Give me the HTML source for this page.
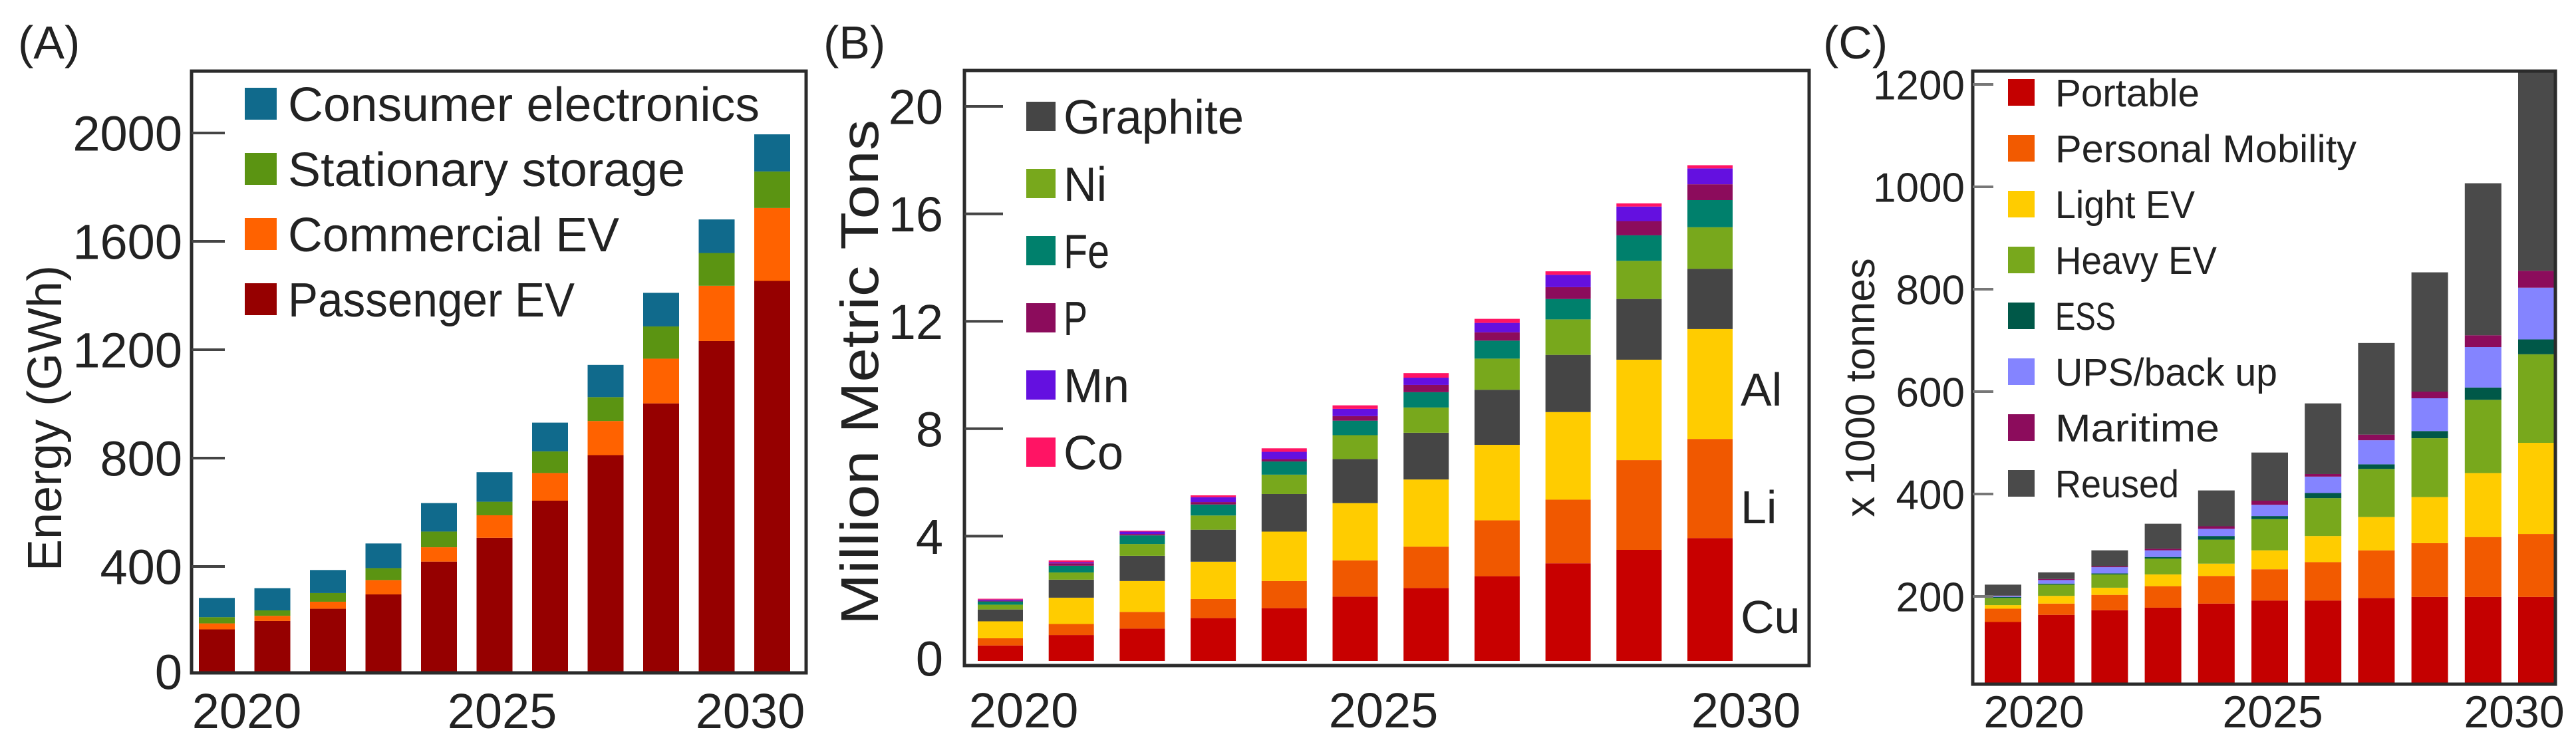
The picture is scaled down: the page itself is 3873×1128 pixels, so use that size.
<!DOCTYPE html>
<html><head><meta charset="utf-8"><style>
html,body{margin:0;padding:0;background:#fff;}
svg{display:block;font-family:"Liberation Sans",sans-serif;}
</style></head><body>
<svg id="fig" width="3873" height="1128" viewBox="0 0 3873 1128" xmlns="http://www.w3.org/2000/svg"></svg>
<script>
// ---------- Panel A data (GWh, cumulative stack tops) ----------
const yearsA = [2020,2021,2022,2023,2024,2025,2026,2027,2028,2029,2030];
const passengerEvCum   = [168,199,244,297,418,506,643,811,1002,1232,1454];
const commercialEvCum  = [190,218,270,350,471,589,745,937,1167,1436,1723];
const stationaryCum    = [213,238,302,394,529,639,825,1025,1286,1557,1858];
const consumerCum      = [284,320,387,485,634,748,931,1144,1410,1681,1995];
const ticksA = [0,400,800,1200,1600,2000];
const xLabelsA = ["2020","2025","2030"];

// ---------- Panel B data (million metric tons, cumulative) ----------
const cuCum  = [-0.07,0.32,0.56,0.95,1.32,1.75,2.07,2.51,2.99,3.49,3.93];
const liCum  = [0.20,0.73,1.18,1.66,2.33,3.10,3.61,4.59,5.36,6.83,7.62];
const alCum  = [0.83,1.71,2.33,3.05,4.17,5.23,6.11,7.40,8.62,10.57,11.71];
const grCum  = [1.27,2.38,3.27,4.24,5.57,6.87,7.85,9.45,10.75,12.83,13.95];
const niCum  = [1.45,2.65,3.71,4.77,6.29,7.76,8.79,10.61,12.07,14.25,15.50];
const feCum  = [1.57,2.90,4.03,5.18,6.78,8.30,9.36,11.28,12.83,15.20,16.51];
const pCum   = [1.60,2.99,4.08,5.27,6.87,8.47,9.63,11.59,13.27,15.73,17.10];
const mnCum  = [1.64,3.03,4.17,5.45,7.14,8.74,9.90,11.94,13.73,16.27,17.69];
const coCum  = [1.67,3.10,4.20,5.52,7.27,8.87,10.07,12.09,13.86,16.39,17.81];
const ticksB = [0,4,8,12,16,20];

// ---------- Panel C data (x1000 tonnes, cumulative) ----------
const portableCum = [150,164,173,178,186,192,192,197,199,199,199];
const personalCum = [176,186,203,220,240,253,267,290,304,316,322];
const lightCum    = [183,201,217,243,264,290,318,355,394,441,500];
const heavyCum    = [197,223,243,274,311,351,392,449,509,584,673];
const essCum      = [199,225,245,277,318,357,402,458,523,608,702];
const upsCum      = [201,232,257,290,332,379,434,505,587,687,803];
const maritimeCum = [201.5,234,259,293,337,387,439,516,600,710,836];
const reusedCum   = [223,247,290,342,407,481,577,695,833,1007,1224];
const ticksC = [200,400,600,800,1000,1200];

const NS="http://www.w3.org/2000/svg";
const svg=document.getElementById('fig');
function el(tag,attrs,parent,text){
  const e=document.createElementNS(NS,tag);
  for(const k in attrs) e.setAttribute(k,attrs[k]);
  if(text!==undefined) e.textContent=text;
  (parent||svg).appendChild(e);
  return e;
}

function drawPanel(cfg){
  const g=el('g',{});
  
  
  const y=v=>cfg.y0-v*cfg.scale;
  cfg.series.forEach((s,si)=>{
    s.cum.forEach((top,i)=>{
      const yb0 = si===0 ? cfg.baseY : y(cfg.series[si-1].cum[i]);
      let yt=Math.max(y(top),cfg.clipTop), yb=Math.min(yb0,cfg.baseY);
      const r=el('rect',{x:cfg.bx0+i*cfg.pitch,y:yt,width:cfg.bw,height:Math.max(0,yb-yt),fill:s.color},g);
      
      
    });
  });
  const f=el('rect',{x:cfg.fx0,y:cfg.fy0,width:cfg.fx1-cfg.fx0,height:cfg.fy1-cfg.fy0,fill:'none',stroke:'#2b2b2b','stroke-width':5},g);
  
  
  cfg.ticks.forEach(t=>{
    const isZero = (t===0);
    if(!isZero && y(t)<cfg.fy1-10){
      const l=el('line',{x1:cfg.fx0,x2:cfg.fx0+cfg.tickLen,y1:y(t),y2:y(t),stroke:cfg.tickColor,'stroke-width':4},g);
      
      
    }
    const ly = isZero ? cfg.zeroLabelY : y(t);
    const tx=el('text',{x:cfg.labelX,y:ly+cfg.tickFont*0.36,'font-size':cfg.tickFont,'text-anchor':'end',fill:'#222'},g,String(t));
    
    
  });
  cfg.xl.forEach((xx,i)=>{
    const t=el('text',{x:xx,y:cfg.xlY,'font-size':cfg.xFont,'text-anchor':'middle',fill:'#222'},g,["2020","2025","2030"][i]);
    
    
  });
  const ta={x:0,y:0,'font-size':cfg.titleFont,'text-anchor':'middle',fill:'#222',transform:`translate(${cfg.titleX},${cfg.titleY}) rotate(-90)`};
  if(cfg.titleLen){ta.textLength=cfg.titleLen;ta.lengthAdjust='spacingAndGlyphs';}
  const yt=el('text',ta,g,cfg.title);
  
  
  const pl=el('text',{x:cfg.letterX,y:88,'font-size':70,fill:'#222'},g,cfg.letter);
  
  
  cfg.legend.forEach((lg,i)=>{
    const cy=cfg.legY0+i*cfg.legPitch;
    const sq=el('rect',{x:cfg.legX,y:cy-cfg.legSq/2,width:cfg.legSq,height:cfg.legSq,fill:lg.color},g);
    
    
    const t=el('text',{x:cfg.legTX,y:cy+cfg.legFont*0.36,'font-size':cfg.legFont,fill:'#222',textLength:lg.w,lengthAdjust:'spacingAndGlyphs'},g,lg.label);
    
    
  });
}

const cA={pass:'#960000',comm:'#ff6200',stat:'#5b9412',cons:'#106a8c'};
drawPanel({name:'panel-a-energy',y0:1015,scale:163/400,bx0:299,pitch:83.5,bw:54,clipTop:107,baseY:1012,
  fx0:288,fy0:107,fx1:1212,fy1:1012,ticks:ticksA,tickLen:50,tickColor:'#444',labelX:274,tickFont:74,zeroLabelY:1010,
  xl:[371,755,1128],xlY:1095,xFont:74,title:'Energy (GWh)',titleX:92,titleY:629,titleFont:72,letter:'(A)',letterX:27,
  series:[{key:'passenger-ev',color:cA.pass,cum:passengerEvCum},{key:'commercial-ev',color:cA.comm,cum:commercialEvCum},
          {key:'stationary',color:cA.stat,cum:stationaryCum},{key:'consumer',color:cA.cons,cum:consumerCum}],
  legend:[{label:'Consumer electronics',color:cA.cons,w:709},{label:'Stationary storage',color:cA.stat,w:597},
          {label:'Commercial EV',color:cA.comm,w:498},{label:'Passenger EV',color:cA.pass,w:431}],
  legX:368,legSq:48,legY0:156,legPitch:98,legTX:433,legFont:72});

const cB={cu:'#c80000',li:'#f05800',al:'#ffcc00',gr:'#454545',ni:'#78a81c',fe:'#00806c',p:'#8c0c5c',mn:'#6410e0',co:'#ff1464'};
drawPanel({name:'panel-b-materials',y0:968,scale:40.4,bx0:1470,pitch:106.7,bw:68,clipTop:106,baseY:994,
  fx0:1450,fy0:106,fx1:2720,fy1:1001,ticks:ticksB,tickLen:58,tickColor:'#444',labelX:1418,tickFont:74,zeroLabelY:990,
  xl:[1539,2080,2625],xlY:1094,xFont:74,title:'Million Metric Tons',titleX:1320,titleY:560,titleFont:80,titleLen:760,letter:'(B)',letterX:1238,
  series:[{key:'cu',color:cB.cu,cum:cuCum},{key:'li',color:cB.li,cum:liCum},{key:'al',color:cB.al,cum:alCum},
          {key:'graphite',color:cB.gr,cum:grCum},{key:'ni',color:cB.ni,cum:niCum},{key:'fe',color:cB.fe,cum:feCum},
          {key:'p',color:cB.p,cum:pCum},{key:'mn',color:cB.mn,cum:mnCum},{key:'co',color:cB.co,cum:coCum}],
  legend:[{label:'Graphite',color:cB.gr,w:271},{label:'Ni',color:cB.ni,w:65},{label:'Fe',color:cB.fe,w:69},
          {label:'P',color:cB.p,w:36},{label:'Mn',color:cB.mn,w:99},{label:'Co',color:cB.co,w:90}],
  legX:1543,legSq:44,legY0:175,legPitch:101,legTX:1599,legFont:72});

[['Al',586],['Li',763],['Cu',928]].forEach(([t,yy])=>{
  const e=el('text',{x:2617,y:yy+24,'font-size':70,fill:'#222'},svg,t);
  
  
});

const cC={port:'#c40000',pm:'#f25a00',lev:'#ffcc00',hev:'#78a81c',ess:'#005848',ups:'#8484ff',mar:'#8c0c5c',reu:'#4a4a4a'};
drawPanel({name:'panel-c-tonnes',y0:1051,scale:0.77,bx0:2984,pitch:80.2,bw:55,clipTop:108,baseY:1027,
  fx0:2966,fy0:107,fx1:3842,fy1:1029,ticks:ticksC,tickLen:31,tickColor:'#777',labelX:2954,tickFont:62,zeroLabelY:1020,
  xl:[3058,3417,3780],xlY:1094,xFont:68,title:'x 1000 tonnes',titleX:2818,titleY:583,titleFont:62,letter:'(C)',letterX:2741,
  series:[{key:'portable',color:cC.port,cum:portableCum},{key:'personal-mobility',color:cC.pm,cum:personalCum},
          {key:'light-ev',color:cC.lev,cum:lightCum},{key:'heavy-ev',color:cC.hev,cum:heavyCum},{key:'ess',color:cC.ess,cum:essCum},
          {key:'ups',color:cC.ups,cum:upsCum},{key:'maritime',color:cC.mar,cum:maritimeCum},{key:'reused',color:cC.reu,cum:reusedCum}],
  legend:[{label:'Portable',color:cC.port,w:217},{label:'Personal Mobility',color:cC.pm,w:453},{label:'Light EV',color:cC.lev,w:210},
          {label:'Heavy EV',color:cC.hev,w:243},{label:'ESS',color:cC.ess,w:91},{label:'UPS/back up',color:cC.ups,w:334},
          {label:'Maritime',color:cC.mar,w:247},{label:'Reused',color:cC.reu,w:186}],
  legX:3019,legSq:40,legY0:139,legPitch:84,legTX:3090,legFont:58});
</script>
</body></html>
